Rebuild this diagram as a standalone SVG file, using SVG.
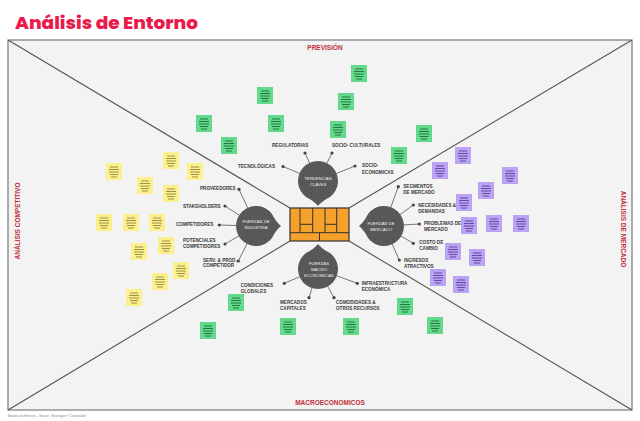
<svg xmlns="http://www.w3.org/2000/svg" xmlns:xlink="http://www.w3.org/1999/xlink" width="640" height="421" viewBox="0 0 640 421">
<style>
.title{font-family:"Poppins","Open Sans","Liberation Sans",sans-serif;font-weight:800;font-size:18px;fill:#e91a4c}
.sec{font-family:"Liberation Sans",Arial,sans-serif;font-weight:bold;font-size:6.5px;fill:#c0303a}
.lbl{font-family:"Liberation Sans",Arial,sans-serif;font-weight:bold;font-size:4.6px;fill:#3a3a3a}
.in{font-family:"Liberation Sans",Arial,sans-serif;font-size:4.3px;fill:#eeeeee;text-anchor:middle}
.foot{font-family:"Liberation Sans",Arial,sans-serif;font-size:3.2px;fill:#888}
.diag{stroke:#555;stroke-width:1.1;fill:none}
.con line{stroke:#555;stroke-width:0.8}
.con circle{fill:#444}
.drop{fill:#585858}
.y{fill:#fbf08c;stroke:#8f8740}
.g{fill:#63d98c;stroke:#1f6b3a}
.p{fill:#b9a3f2;stroke:#5c3f9e}
.bmc{stroke:#333;stroke-width:1;fill:none}
</style>
<defs>
<path id="tear" d="M0,25 Q-4,20 -12,16 A20,20 0 1 1 12,16 Q4,20 0,25 Z"/>
<symbol id="note" viewBox="0 0 16 17" width="16" height="17" overflow="visible">
<rect x="0" y="0" width="16" height="17" stroke="none"/>
<path d="M4,4H12M3,6.5H13M3,9H13M4,11.5H12M5,14H11" fill="none" stroke-width="0.9"/>
</symbol>
</defs>
<rect x="0" y="0" width="640" height="421" fill="#ffffff"/>
<text class="title" x="15" y="29" textLength="183" lengthAdjust="spacingAndGlyphs">Análisis de Entorno</text>
<g id="frame">
<rect x="8" y="40" width="624" height="370" fill="#f3f3f3" stroke="#7a7a7a" stroke-width="1.2"/>
<path class="diag" d="M8,40L290,208M632,40L349,208M8,410L290,241M632,410L349,241"/>
</g>
<text class="sec" x="325" y="50" text-anchor="middle">PREVISIÓN</text>
<text class="sec" x="330" y="405" text-anchor="middle">MACROECONOMICOS</text>
<text class="sec" transform="translate(19.5,221) rotate(-90)" text-anchor="middle">ANÁLISIS COMPETITIVO</text>
<text class="sec" transform="translate(621,229) rotate(90)" text-anchor="middle">ANÁLISIS DE MERCADO</text>
<text class="foot" x="8" y="417">Análisis de Entorno – Source: Strategyzer "Catalinabler"</text>
<g id="notes">
<use href="#note" class="g" x="351" y="65"/>
<use href="#note" class="g" x="338" y="93"/>
<use href="#note" class="g" x="257" y="87"/>
<use href="#note" class="g" x="268" y="115"/>
<use href="#note" class="g" x="330" y="121"/>
<use href="#note" class="g" x="196" y="115"/>
<use href="#note" class="g" x="221" y="137"/>
<use href="#note" class="g" x="416" y="125"/>
<use href="#note" class="g" x="391" y="147"/>
<use href="#note" class="g" x="228" y="294"/>
<use href="#note" class="g" x="280" y="318"/>
<use href="#note" class="g" x="343" y="318"/>
<use href="#note" class="g" x="397" y="298"/>
<use href="#note" class="g" x="427" y="317"/>
<use href="#note" class="g" x="200" y="322"/>
<use href="#note" class="y" x="106" y="163"/>
<use href="#note" class="y" x="163" y="152"/>
<use href="#note" class="y" x="187" y="163"/>
<use href="#note" class="y" x="137" y="177"/>
<use href="#note" class="y" x="163" y="185"/>
<use href="#note" class="y" x="96" y="214"/>
<use href="#note" class="y" x="123" y="214"/>
<use href="#note" class="y" x="149" y="214"/>
<use href="#note" class="y" x="158" y="237"/>
<use href="#note" class="y" x="131" y="243"/>
<use href="#note" class="y" x="173" y="262"/>
<use href="#note" class="y" x="152" y="273"/>
<use href="#note" class="y" x="126" y="289"/>
<use href="#note" class="p" x="455" y="147"/>
<use href="#note" class="p" x="432" y="162"/>
<use href="#note" class="p" x="502" y="167"/>
<use href="#note" class="p" x="478" y="182"/>
<use href="#note" class="p" x="456" y="194"/>
<use href="#note" class="p" x="461" y="217"/>
<use href="#note" class="p" x="486" y="215"/>
<use href="#note" class="p" x="513" y="215"/>
<use href="#note" class="p" x="445" y="243"/>
<use href="#note" class="p" x="469" y="249"/>
<use href="#note" class="p" x="430" y="269"/>
<use href="#note" class="p" x="453" y="276"/>
</g>
<g id="connectors" class="con">
<line x1="305" y1="153" x2="318" y2="181"/><circle cx="305" cy="153" r="1.6"/>
<line x1="332" y1="153" x2="318" y2="181"/><circle cx="332" cy="153" r="1.6"/>
<line x1="283" y1="166.5" x2="318" y2="181"/><circle cx="283" cy="166.5" r="1.6"/>
<line x1="355" y1="166" x2="318" y2="181"/><circle cx="355" cy="166" r="1.6"/>
<line x1="239" y1="189.3" x2="256" y2="226"/><circle cx="239" cy="189.3" r="1.6"/>
<line x1="225" y1="206" x2="256" y2="226"/><circle cx="225" cy="206" r="1.6"/>
<line x1="219.3" y1="225" x2="256" y2="226"/><circle cx="219.3" cy="225" r="1.6"/>
<line x1="225" y1="244" x2="256" y2="226"/><circle cx="225" cy="244" r="1.6"/>
<line x1="238.3" y1="261" x2="256" y2="226"/><circle cx="238.3" cy="261" r="1.6"/>
<line x1="398.3" y1="186.7" x2="384" y2="226"/><circle cx="398.3" cy="186.7" r="1.6"/>
<line x1="413.3" y1="205" x2="384" y2="226"/><circle cx="413.3" cy="205" r="1.6"/>
<line x1="419.3" y1="224" x2="384" y2="226"/><circle cx="419.3" cy="224" r="1.6"/>
<line x1="413.3" y1="243.3" x2="384" y2="226"/><circle cx="413.3" cy="243.3" r="1.6"/>
<line x1="399.3" y1="260" x2="384" y2="226"/><circle cx="399.3" cy="260" r="1.6"/>
<line x1="284.3" y1="283.3" x2="318" y2="269"/><circle cx="284.3" cy="283.3" r="1.6"/>
<line x1="309" y1="297.7" x2="318" y2="269"/><circle cx="309" cy="297.7" r="1.6"/>
<line x1="334" y1="297.7" x2="318" y2="269"/><circle cx="334" cy="297.7" r="1.6"/>
<line x1="357.3" y1="283.3" x2="318" y2="269"/><circle cx="357.3" cy="283.3" r="1.6"/>
</g>
<g id="labels">
<text class="lbl" x="272" y="146.6">REGULATORIAS</text>
<text class="lbl" x="332" y="146.6">SOCIO- CULTURALES</text>
<text class="lbl" x="238" y="168.3">TECNOLÓGICAS</text>
<text class="lbl" x="362" y="167">SOCIO-</text>
<text class="lbl" x="362" y="174">ECONOMICAS</text>
<text class="lbl" x="200" y="190">PROVEEDORES</text>
<text class="lbl" x="183" y="207.6">STAKEHOLDERS</text>
<text class="lbl" x="176" y="226">COMPETIDORES</text>
<text class="lbl" x="183" y="242.3">POTENCIALES</text>
<text class="lbl" x="183" y="247.7">COMPETIDORES</text>
<text class="lbl" x="203" y="261.6">SERV. &amp; PROD.</text>
<text class="lbl" x="203" y="267.3">COMPETIDOR</text>
<text class="lbl" x="403.3" y="187.6">SEGMENTOS</text>
<text class="lbl" x="403.3" y="193.9">DE MERCADO</text>
<text class="lbl" x="418.3" y="206.6">NECESIDADES &amp;</text>
<text class="lbl" x="418.3" y="213.3">DEMANDAS</text>
<text class="lbl" x="424" y="224.9">PROBLEMAS DE</text>
<text class="lbl" x="424" y="230.9">MERCADO</text>
<text class="lbl" x="419.3" y="244.3">COSTO DE</text>
<text class="lbl" x="419.3" y="250.3">CAMBIO</text>
<text class="lbl" x="404" y="261.6">INGRESOS</text>
<text class="lbl" x="404" y="268.3">ATRACTIVOS</text>
<text class="lbl" x="240.7" y="286.6">CONDICIONES</text>
<text class="lbl" x="240.7" y="292.6">GLOBALES</text>
<text class="lbl" x="280" y="304.3">MERCADOS</text>
<text class="lbl" x="280" y="309.9">CAPITALES</text>
<text class="lbl" x="336" y="304.3">COMODIDADES &amp;</text>
<text class="lbl" x="336" y="309.9">OTROS RECURSOS</text>
<text class="lbl" x="361.7" y="284.9">INFRAESTRUCTURA</text>
<text class="lbl" x="361.7" y="290.6">ECONÓMICA</text>
</g>
<g id="canvas">
<rect x="290" y="208" width="59" height="33" fill="#f6a12c" stroke="#333" stroke-width="1.2"/>
<path class="bmc" d="M290,232.7H349M300,208V232.7M312.7,208V232.7M325,208V232.7M336.7,208V232.7M300,224.3H312.7M325,224.3H336.7M319.5,232.7V241"/>
</g>
<g id="tendencias">
<use href="#tear" class="drop" transform="translate(318,181)"/>
<text class="in" x="318" y="179.5">TENDENCIAS</text>
<text class="in" x="318" y="185.5">CLAVES</text>
</g>
<g id="industria">
<use href="#tear" class="drop" transform="translate(256,226) rotate(-90)"/>
<text class="in" x="256" y="222.5">FUERZAS DE</text>
<text class="in" x="256" y="228.5">INDUSTRIA</text>
</g>
<g id="mercado">
<use href="#tear" class="drop" transform="translate(384,226) rotate(90)"/>
<text class="in" x="381" y="224.5">FUERZAS DE</text>
<text class="in" x="381" y="230.5">MERCADO</text>
</g>
<g id="macro">
<use href="#tear" class="drop" transform="translate(318,269) rotate(180)"/>
<text class="in" x="319" y="264.5">FUERZAS</text>
<text class="in" x="319" y="270.5">MACRO</text>
<text class="in" x="319" y="277">ECONÓMICAS</text>
</g>
</svg>
